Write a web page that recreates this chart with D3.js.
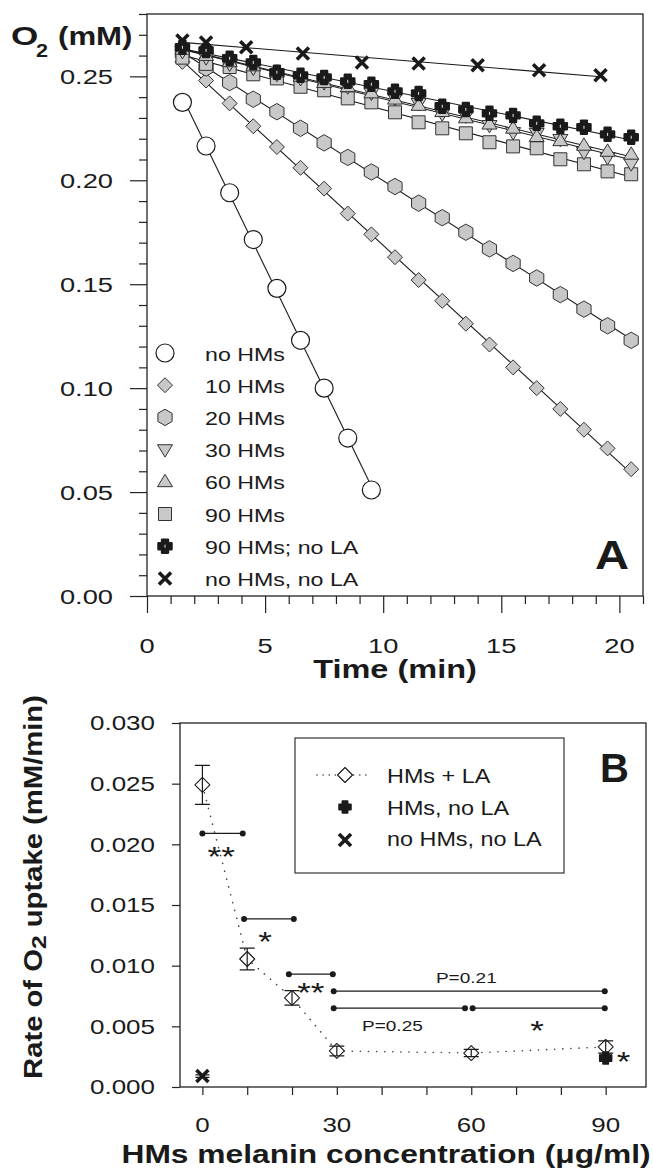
<!DOCTYPE html>
<html>
<head>
<meta charset="utf-8">
<script src="https://cdn.jsdelivr.net/npm/d3@7"></script>
<style>
body { margin: 0; background: #fff; }
text { font-family: "Liberation Sans", Arial, sans-serif; fill: #1a1a1a; }
</style>
</head>
<body>
<svg id="chart"></svg>
<script>
// ---- panel A: O2 vs time ----
const tNoHMs = [1.5, 2.5, 3.5, 4.5, 5.5, 6.5, 7.5, 8.5, 9.5];
const oNoHMs = [0.2375, 0.2165, 0.194, 0.1715, 0.148, 0.123, 0.100, 0.076, 0.051];

const tRun = [1.5, 2.5, 3.5, 4.5, 5.5, 6.5, 7.5, 8.5, 9.5, 10.5,
              11.5, 12.5, 13.5, 14.5, 15.5, 16.5, 17.5, 18.5, 19.5, 20.5];
const o10 = [0.257, 0.248, 0.237, 0.226, 0.216, 0.206, 0.196, 0.184, 0.174, 0.163,
             0.152, 0.142, 0.131, 0.121, 0.110, 0.100, 0.090, 0.080, 0.071, 0.061];
const o20 = [0.261, 0.254, 0.247, 0.239, 0.233, 0.225, 0.218, 0.211, 0.204, 0.197,
             0.189, 0.182, 0.175, 0.167, 0.160, 0.153, 0.145, 0.138, 0.130, 0.123];
const o30 = [0.262, 0.259, 0.256, 0.254, 0.251, 0.249, 0.247, 0.245, 0.242, 0.2394,
             0.237, 0.232, 0.231, 0.2264, 0.223, 0.2226, 0.2197, 0.2135, 0.211, 0.208];
const o60 = [0.263, 0.260, 0.257, 0.255, 0.252, 0.250, 0.247, 0.245, 0.242, 0.239,
             0.236, 0.233, 0.230, 0.227, 0.225, 0.221, 0.219, 0.2168, 0.2139, 0.2125];
const o90 = [0.259, 0.256, 0.2545, 0.251, 0.249, 0.245, 0.2433, 0.2394, 0.2375, 0.2327,
             0.2279, 0.225, 0.2226, 0.2183, 0.2163, 0.2154, 0.2101, 0.2077, 0.2043, 0.2029];
const o90noLA = [0.264, 0.2625, 0.2587, 0.2567, 0.252, 0.2505, 0.2495, 0.2476, 0.2462, 0.2428,
                 0.2418, 0.2356, 0.2341, 0.2322, 0.2312, 0.2274, 0.226, 0.2255, 0.2221, 0.2207];
const tNoLA = [1.5, 2.5, 4.2, 6.6, 9.1, 11.5, 14.0, 16.6, 19.2];
const oNoLA = [0.2673, 0.2663, 0.264, 0.261, 0.2567, 0.2562, 0.2553, 0.2529, 0.2505];

const legendA = ["no HMs", "10 HMs", "20 HMs", "30 HMs", "60 HMs", "90 HMs", "90 HMs; no LA", "no HMs, no LA"];
const kindsA = ["circle", "diamond", "hexagon", "triDown", "triUp", "square", "plusDot", "x"];

// ---- panel B: rate vs melanin ----
const concLA = [0, 10, 20, 30, 60, 90];
const rateLA = [0.0249, 0.01055, 0.00734, 0.00297, 0.0028, 0.0033];
const errLA = [0.0016, 0.0009, 0.0006, 0.0004, 0.0003, 0.0005];
const concNoLA = [90];
const rateNoLA = [0.0024];
const errNoLA = [0.0003];
const concCtrl = [0];
const rateCtrl = [0.0009];
const errCtrl = [0.0001];

const brX1 = [0, 9.3, 19.3, 29.3, 29.3, 60.3];
const brX2 = [9, 20.4, 29.1, 89.8, 58.6, 89.8];
const brY = [0.0209, 0.01385, 0.0093, 0.0079, 0.0065, 0.0065];

const noteText = ["**", "*", "**", "P=0.21", "P=0.25", "*", "*"];
const noteX = [4.2, 14, 24.2, 58.9, 42.4, 74.7, 94];
const noteY = [0.0195, 0.01253, 0.00832, 0.00898, 0.00503, 0.0052, 0.00264];

const legendB = ["HMs + LA", "HMs, no LA", "no HMs, no LA"];

const W = 653, H = 1170;
const svg = d3.select("#chart").attr("width", W).attr("height", H);
svg.append("rect").attr("width", W).attr("height", H).attr("fill", "#fff");

const ink = "#1a1a1a";

// stretched text helper (the figure's lettering is wide)
function txt(parent, x, y, s, o = {}) {
    const g = parent.append("g")
        .attr("transform", `translate(${x},${y})${o.rot ? ` rotate(${o.rot})` : ""} scale(${o.sx ?? 1.3},1)`);
    return g.append("text")
        .attr("font-size", o.size ?? 20)
        .attr("font-weight", o.bold ? "bold" : null)
        .attr("text-anchor", o.anchor ?? "start")
        .attr("dy", o.dy ?? null)
        .text(s);
}

function shapePath(kind, r) {
    switch (kind) {
        case "circle": return d3.symbol(d3.symbolCircle, Math.PI * r * r)();
        case "diamond": return `M0,${-r}L${r},0L0,${r}L${-r},0Z`;
        case "hexagon": {
            const p = d3.range(6).map(i => {
                const a = Math.PI / 3 * i - Math.PI / 2;
                return [r * Math.cos(a), r * Math.sin(a)];
            });
            return "M" + p.join("L") + "Z";
        }
        case "triDown": return `M${-r},${-r * 0.65}L${r},${-r * 0.65}L0,${r}Z`;
        case "triUp": return `M${-r},${r * 0.65}L${r},${r * 0.65}L0,${-r}Z`;
        case "square": return `M${-r},${-r}H${r}V${r}H${-r}Z`;
        case "plus":
        case "plusDot": {
            const a = r * 0.45;
            return `M${-a},${-r}H${a}V${-a}H${r}V${a}H${a}V${r}H${-a}V${a}H${-r}V${-a}H${-a}Z`;
        }
        case "x": return `M${-r},${-r}L${r},${r}M${r},${-r}L${-r},${r}`;
    }
}

const markStyle = {
    circle: {fill: "#fff", stroke: ink, sw: 1.2, r: 9},
    diamond: {fill: "#c8c8c8", stroke: "#333", sw: 1, r: 7.5},
    hexagon: {fill: "#c8c8c8", stroke: "#333", sw: 1, r: 8.2},
    triDown: {fill: "#c8c8c8", stroke: "#333", sw: 1, r: 7.5},
    triUp: {fill: "#c8c8c8", stroke: "#333", sw: 1, r: 7.5},
    square: {fill: "#c8c8c8", stroke: "#333", sw: 1, r: 6.5},
    plusDot: {fill: ink, stroke: ink, sw: 2.5, r: 6.5},
    x: {fill: "none", stroke: ink, sw: 3.6, r: 6},
    openDiamond: {fill: "#fff", stroke: ink, sw: 1.1, r: 7.5},
    plus: {fill: ink, stroke: ink, sw: 1.5, r: 6}
};

function drawMark(g, kind, x, y) {
    const st = markStyle[kind];
    const shape = kind === "openDiamond" ? "diamond" : kind;
    g.append("path")
        .attr("transform", `translate(${x},${y})`)
        .attr("d", shapePath(shape, st.r))
        .attr("fill", st.fill)
        .attr("stroke", st.stroke)
        .attr("stroke-width", st.sw)
        .attr("stroke-linejoin", "round");
    if (kind === "plusDot") {
        g.append("path")
            .attr("d", `M${x},${y - 1.5}V${y + 1.5}`)
            .attr("stroke", "#fff").attr("stroke-width", 0.9);
    }
}

// ================= Panel A =================
const xA = d3.scaleLinear().domain([0, 21]).range([147, 643]);
const yA = d3.scaleLinear().domain([0, 0.28]).range([596, 14]);
const gA = svg.append("g");

function tickStyle(sel) {
    sel.select(".domain").remove();
    sel.selectAll(".tick line").attr("stroke", "#222").attr("stroke-width", 1.2);
    sel.selectAll(".tick text").remove();
}

gA.append("g").attr("transform", `translate(0,${yA(0)})`)
    .call(d3.axisBottom(xA).tickValues([0, 5, 10, 15, 20]).tickSize(17)).call(tickStyle);
gA.append("g").attr("transform", `translate(0,${yA(0)})`)
    .call(d3.axisBottom(xA).tickValues(d3.range(1, 22).filter(v => v % 5)).tickSize(8)).call(tickStyle);
gA.append("g").attr("transform", `translate(${xA(0)},0)`)
    .call(d3.axisLeft(yA).tickValues([0, 0.05, 0.1, 0.15, 0.2, 0.25]).tickSize(17)).call(tickStyle);
gA.append("g").attr("transform", `translate(${xA(0)},0)`)
    .call(d3.axisLeft(yA).tickValues(d3.range(1, 29).filter(i => i % 5).map(i => i / 100)).tickSize(8)).call(tickStyle);

gA.append("rect")
    .attr("x", xA(0)).attr("y", yA(0.28))
    .attr("width", xA(21) - xA(0)).attr("height", yA(0) - yA(0.28))
    .attr("fill", "none").attr("stroke", "#222").attr("stroke-width", 1.3);

[0, 0.05, 0.1, 0.15, 0.2, 0.25].forEach(v =>
    txt(gA, 113, yA(v), d3.format(".2f")(v), {size: 21, anchor: "end", dy: "0.36em"}));
[0, 5, 10, 15, 20].forEach(v =>
    txt(gA, xA(v), 653, v, {size: 21, anchor: "middle"}));

txt(gA, 395, 678, "Time (min)", {size: 25, bold: true, anchor: "middle"});
txt(gA, 11, 45, "O", {size: 26, bold: true, sx: 1.35});
txt(gA, 36, 57, "2", {size: 18, bold: true, sx: 1.2});
txt(gA, 58, 45, "(mM)", {size: 26, bold: true, sx: 1.2});
txt(gA, 595, 569, "A", {size: 41, bold: true, sx: 1.15});

const seriesA = [
    {t: tNoHMs, o: oNoHMs, kind: "circle"},
    {t: tRun, o: o10, kind: "diamond"},
    {t: tRun, o: o20, kind: "hexagon"},
    {t: tRun, o: o90, kind: "square"},
    {t: tRun, o: o30, kind: "triDown"},
    {t: tRun, o: o60, kind: "triUp"},
    {t: tRun, o: o90noLA, kind: "plusDot"},
    {t: tNoLA, o: oNoLA, kind: "x"}
];

// least-squares fit lines
seriesA.forEach(s => {
    const mt = d3.mean(s.t), mo = d3.mean(s.o);
    const b = d3.sum(s.t, (t, i) => (t - mt) * (s.o[i] - mo)) / d3.sum(s.t, t => (t - mt) ** 2);
    const a = mo - b * mt;
    const t0 = d3.min(s.t), t1 = d3.max(s.t);
    gA.append("line")
        .attr("x1", xA(t0)).attr("y1", yA(a + b * t0))
        .attr("x2", xA(t1)).attr("y2", yA(a + b * t1))
        .attr("stroke", ink).attr("stroke-width", 1.1);
});
seriesA.forEach(s => {
    const g = gA.append("g");
    s.t.forEach((t, i) => drawMark(g, s.kind, xA(t), yA(s.o[i])));
});

// legend A
legendA.forEach((name, i) => {
    const cy = 353 + i * 32.2;
    drawMark(gA, kindsA[i], 165, cy);
    txt(gA, 205, cy + 7.5, name, {size: 19, sx: 1.22});
});

// ================= Panel B =================
const xB = d3.scaleLinear().domain([-5, 99]).range([180, 646]);
const yB = d3.scaleLinear().domain([0, 0.03]).range([1087, 723]);
const gB = svg.append("g");

gB.append("g").attr("transform", `translate(0,${yB(0)})`)
    .call(d3.axisBottom(xB).tickValues(d3.range(0, 100, 10)).tickSize(8)).call(tickStyle);
gB.append("g").attr("transform", `translate(${xB(-5)},0)`)
    .call(d3.axisLeft(yB).tickValues(d3.range(0, 7).map(i => i * 0.005)).tickSize(8)).call(tickStyle);
gB.append("rect")
    .attr("x", xB(-5)).attr("y", yB(0.03))
    .attr("width", xB(99) - xB(-5)).attr("height", yB(0) - yB(0.03))
    .attr("fill", "none").attr("stroke", "#222").attr("stroke-width", 1.3);

d3.range(0, 7).map(i => i * 0.005).forEach(v =>
    txt(gB, 155, yB(v), d3.format(".3f")(v), {size: 20, anchor: "end", dy: "0.36em"}));
[0, 30, 60, 90].forEach(v =>
    txt(gB, xB(v), 1132, v, {size: 20, anchor: "middle"}));

txt(gB, 386, 1163, "HMs melanin concentration (\u03bcg/ml)", {size: 25, bold: true, anchor: "middle", sx: 1.27});
const yl = txt(gB, 42, 887, "", {size: 25, bold: true, anchor: "middle", rot: -90, sx: 1.17});
yl.append("tspan").text("Rate of O");
yl.append("tspan").attr("font-size", 21).attr("dy", 4).text("2");
yl.append("tspan").attr("dy", -4).text(" uptake (mM/min)");
txt(gB, 600, 782, "B", {size: 40, bold: true, sx: 1.0});

// dotted connecting line
gB.append("path")
    .attr("d", d3.line()(concLA.map((c, i) => [xB(c), yB(rateLA[i])])))
    .attr("fill", "none").attr("stroke", "#444").attr("stroke-width", 1.6)
    .attr("stroke-linecap", "round").attr("stroke-dasharray", "0.1,8");

function errBar(x, y0, y1, half) {
    gB.append("path")
        .attr("d", `M${x},${y0}V${y1}M${x - half},${y0}H${x + half}M${x - half},${y1}H${x + half}`)
        .attr("stroke", ink).attr("stroke-width", 1.2).attr("fill", "none");
}

concLA.forEach((c, i) => {
    drawMark(gB, "openDiamond", xB(c), yB(rateLA[i]));
    errBar(xB(c), yB(rateLA[i] + errLA[i]), yB(rateLA[i] - errLA[i]), 7.5);
});
concNoLA.forEach((c, i) => {
    drawMark(gB, "plus", xB(c), yB(rateNoLA[i]));
    errBar(xB(c), yB(rateNoLA[i] + errNoLA[i]), yB(rateNoLA[i] - errNoLA[i]), 6.5);
});
concCtrl.forEach((c, i) => {
    drawMark(gB, "x", xB(c), yB(rateCtrl[i]));
    errBar(xB(c), yB(rateCtrl[i] + errCtrl[i]), yB(rateCtrl[i] - errCtrl[i]), 7);
});

// significance brackets
brY.forEach((y, i) => {
    gB.append("line")
        .attr("x1", xB(brX1[i])).attr("x2", xB(brX2[i]))
        .attr("y1", yB(y)).attr("y2", yB(y))
        .attr("stroke", ink).attr("stroke-width", 1.3);
    [brX1[i], brX2[i]].forEach(x =>
        gB.append("circle").attr("cx", xB(x)).attr("cy", yB(y)).attr("r", 3).attr("fill", ink));
});

noteText.forEach((s, i) => {
    const star = s.startsWith("*");
    txt(gB, xB(noteX[i]), yB(noteY[i]), s, {
        size: star ? 27 : 15, anchor: "middle", dy: star ? "0.58em" : "0.36em",
        sx: star ? 1.3 : 1.27
    });
});

// legend B
gB.append("rect").attr("x", 295).attr("y", 738).attr("width", 269).attr("height", 135)
    .attr("fill", "#fff").attr("stroke", "#333").attr("stroke-width", 1.2);
gB.append("line").attr("x1", 317).attr("x2", 367).attr("y1", 775).attr("y2", 775)
    .attr("stroke", "#444").attr("stroke-width", 1.6)
    .attr("stroke-linecap", "round").attr("stroke-dasharray", "0.1,6");
drawMark(gB, "openDiamond", 345, 775);
drawMark(gB, "plus", 345, 807);
drawMark(gB, "x", 345, 840);
legendB.forEach((name, i) =>
    txt(gB, 387, 783 + i * 31.5, name, {size: 20, sx: 1.17}));
</script>
</body>
</html>
